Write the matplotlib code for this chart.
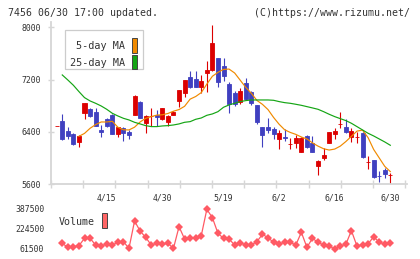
import numpy as np
import matplotlib
matplotlib.use("Agg")
import matplotlib.pyplot as plt
from matplotlib.patches import Rectangle

# ---------------- data ----------------
opens = [6484, 6565, 6412, 6361, 6249, 6683, 6754, 6703, 6428, 6596,
         6657, 6371, 6453, 6402, 6657, 6862, 6530, 6647, 6652, 6591,
         6555, 6662, 6867, 6989, 7239, 7210, 7091, 7296, 7347, 7535,
         7408, 7132, 6994, 6862, 7147, 7010, 6811, 6474, 6479, 6443,
         6285, 6326, 6208, 6234, 6096, 6331, 6229, 5881, 6004, 6234,
         6361, 6514, 6479, 6326, 6326, 6382, 5943, 5968, 5728, 5815, 5733]
highs = [6484, 6668, 6479, 6377, 6351, 6841, 6770, 6770, 6504, 6611,
         6673, 6474, 6479, 6428, 6964, 6872, 6657, 6760, 6734, 6765,
         6657, 6713, 7040, 7188, 7331, 7331, 7270, 7484, 8036, 7535,
         7530, 7163, 7025, 7066, 7219, 7020, 6811, 6474, 6606, 6479,
         6428, 6438, 6300, 6351, 6326, 6346, 6341, 5968, 6152, 6402,
         6453, 6703, 6596, 6453, 6402, 6392, 6030, 5968, 5800, 5841, 5764]
lows = [6484, 6275, 6290, 6198, 6167, 6596, 6632, 6494, 6326, 6479,
        6371, 6326, 6264, 6290, 6657, 6606, 6377, 6489, 6489, 6581,
        6489, 6652, 6785, 6928, 7066, 7091, 6999, 7015, 7337, 7091,
        7183, 6693, 6795, 6821, 6887, 6805, 6514, 6172, 6387, 6295,
        6137, 6264, 6132, 6147, 6096, 6147, 6086, 5733, 5968, 6223,
        6285, 6463, 6377, 6239, 6234, 6004, 5835, 5698, 5637, 5698, 5601]
closes = [6484, 6290, 6336, 6213, 6336, 6841, 6642, 6494, 6402, 6489,
          6371, 6474, 6387, 6356, 6948, 6617, 6642, 6647, 6632, 6765,
          6642, 6703, 7040, 7188, 7091, 7091, 7178, 7347, 7765, 7168,
          7255, 6821, 6821, 7025, 6897, 6836, 6555, 6351, 6428, 6371,
          6377, 6300, 6208, 6310, 6310, 6162, 6096, 5953, 6050, 6392,
          6412, 6514, 6402, 6412, 6326, 6020, 5943, 5713, 5723, 5754, 5733]

nan = float("nan")
ma5 = [nan, nan, nan, nan, 6330, 6375, 6453, 6510, 6550, 6550,
       6560, 6470, 6430, 6428, 6470, 6550, 6606, 6631, 6655, 6660,
       6680, 6715, 6740, 6790, 6900, 6940, 7000, 7130, 7250, 7310,
       7355, 7360, 7300, 7190, 7080, 6990, 6880, 6820, 6740, 6620,
       6515, 6430, 6390, 6360, 6320, 6290, 6230, 6180, 6140, 6120,
       6135, 6180, 6250, 6330, 6410, 6425, 6310, 6130, 6000, 5870, 5790]
ma25 = [nan, 7270, 7193, 7112, 7015, 6923, 6872, 6836, 6795, 6744,
        6683, 6642, 6606, 6581, 6545, 6520, 6494, 6479, 6479, 6489,
        6494, 6504, 6520, 6545, 6555, 6591, 6611, 6652, 6673, 6708,
        6775, 6811, 6836, 6862, 6877, 6887, 6887, 6887, 6887, 6882,
        6862, 6846, 6836, 6821, 6805, 6785, 6765, 6744, 6708, 6668,
        6632, 6601, 6571, 6530, 6479, 6428, 6377, 6336, 6290, 6244, 6193]

volume = [107700, 75000, 80500, 88700, 148400, 148400, 94100, 88700, 99500, 94100,
          115800, 121300, 66900, 289700, 208200, 156600, 94100, 107700, 102300, 107700,
          66900, 243500, 143000, 153900, 148400, 170200, 384800, 316900, 189200, 148400,
          143000, 94100, 113100, 94100, 94100, 121300, 181000, 153900, 115800, 102300,
          115800, 115800, 94100, 197300, 75000, 148400, 115800, 94100, 88700, 58800,
          86000, 99500, 210900, 86000, 94100, 102300, 162000, 115800, 102300, 107700]

date_labels = ["4/15", "4/30", "5/19", "6/2", "6/16", "6/30"]
date_index = [9, 19, 30, 40, 50, 60]
price_ticks = [5600, 6400, 7200, 8000]
volume_ticks = [61500, 224500, 387500]

title_left = "7456 06/30 17:00 updated."
title_right = "(C)https://www.rizumu.net/"

# ---------------- style ----------------
W, H = 420, 259
RED = "#dc0000"
BLUE = "#4040c0"
ORANGE = "#f08a00"
GREEN = "#14a514"
VOLC = "#ff5a64"
GRID = "#d6d6d6"
TXT = "#333333"
MONO = "DejaVu Sans Mono"

fig = plt.figure(figsize=(W / 100, H / 100), dpi=100)
fig.patch.set_facecolor("white")


def fx(px):
    return px / W


def fy(py):
    return 1 - py / H


# main axes: pixel box x 51..407, y 22..184
ax = fig.add_axes([fx(51), fy(184), fx(407) - fx(51), fy(22) - fy(184)])
n = len(closes)
x = np.arange(n)
ax.set_xlim(-1.025, 63.0)
ax.set_ylim(5600, 8081)

o = np.array(opens, float)
c = np.array(closes, float)
hi = np.array(highs, float)
lo = np.array(lows, float)
cols = [RED if cc >= oo else BLUE for oo, cc in zip(o, c)]

ax.vlines(x, lo, hi, colors=cols, linewidth=0.8, zorder=2)
ax.bar(x, np.abs(c - o), bottom=np.minimum(o, c), width=0.72,
       color=cols, edgecolor=cols, linewidth=0.6, zorder=3)

ax.plot(x, ma5, color=ORANGE, linewidth=0.85, zorder=4)
ax.plot(x, ma25, color=GREEN, linewidth=0.85, zorder=4)

for s in ["top", "right"]:
    ax.spines[s].set_visible(False)
for s in ["left", "bottom"]:
    ax.spines[s].set_color(GRID)
    ax.spines[s].set_linewidth(1.3)

ax.set_yticks(price_ticks)
ax.set_yticklabels([str(v) for v in price_ticks])
ax.tick_params(axis="y", direction="inout", length=4, width=1.0, color=GRID,
               pad=5.5, labelsize=5.9, labelcolor=TXT)
for t in ax.get_yticklabels():
    t.set_family(MONO)

step = 64.025 / 11.06
ax.set_xticks(np.arange(12) * step - 1.025, minor=False)
ax.set_xticklabels([])
ax.tick_params(axis="x", direction="inout", length=6, width=1.0, color=GRID)

# date labels as text below
for lab, idx in zip(date_labels, date_index):
    ax.text(idx, -0.085, lab, transform=ax.get_xaxis_transform(), ha="center",
            va="center", fontsize=5.9, family=MONO, color=TXT)

# legend box
fig.patches.append(Rectangle((fx(65), fy(69.3)), fx(143.3) - fx(65), fy(30) - fy(69.3),
                             transform=fig.transFigure, facecolor="white",
                             edgecolor="#cccccc", linewidth=0.9, zorder=5))
fig.text(fx(125), fy(46), "5-day MA", ha="right", va="center", fontsize=7.3,
         family=MONO, color=TXT, zorder=6)
fig.text(fx(125), fy(63.3), "25-day MA", ha="right", va="center", fontsize=7.3,
         family=MONO, color=TXT, zorder=6)
fig.patches.append(Rectangle((fx(131.7), fy(53)), fx(137.3) - fx(131.7), fy(38) - fy(53),
                             transform=fig.transFigure, facecolor=ORANGE,
                             edgecolor="#444444", linewidth=0.7, zorder=6))
fig.patches.append(Rectangle((fx(131.7), fy(68.5)), fx(137.3) - fx(131.7), fy(54.8) - fy(68.5),
                             transform=fig.transFigure, facecolor=GREEN,
                             edgecolor="#444444", linewidth=0.7, zorder=6))

# volume axes: pixel box y 203..254 ; 61500 at y=249, 387500 at y=209
av = fig.add_axes([fx(51), fy(254), fx(407) - fx(51), fy(203) - fy(254)])
av.set_xlim(-1.025, 63.0)
vpp = (387500 - 61500) / 40.0
av.set_ylim(61500 - 5 * vpp, 387500 + 6 * vpp)
xv = np.arange(1, len(volume) + 1)
av.plot(xv, volume, color=VOLC, linewidth=0.9, marker="D", markersize=3.6,
        markeredgewidth=0, zorder=3)
for s in av.spines.values():
    s.set_visible(False)
av.set_xticks([])
av.set_yticks(volume_ticks)
av.set_yticklabels([str(v) for v in volume_ticks])
av.tick_params(axis="y", length=0, pad=4.8, labelsize=5.9, labelcolor=TXT)
for t in av.get_yticklabels():
    t.set_family(MONO)
av.patch.set_alpha(0)

fig.text(fx(58.3), fy(221.7), "Volume", ha="left", va="center", fontsize=7.2,
         family=MONO, color=TXT)
fig.patches.append(Rectangle((fx(101.7), fy(228.3)), fx(107.3) - fx(101.7), fy(213.3) - fy(228.3),
                             transform=fig.transFigure, facecolor="#ff6666",
                             edgecolor="#444444", linewidth=0.7, zorder=6))

# header
fig.text(fx(8), fy(12.7), title_left, ha="left", va="center", fontsize=7.1,
         family=MONO, color=TXT)
fig.text(fx(410), fy(12.7), title_right, ha="right", va="center", fontsize=7.1,
         family=MONO, color=TXT)

fig.savefig("out.png", dpi=100, facecolor="white")
